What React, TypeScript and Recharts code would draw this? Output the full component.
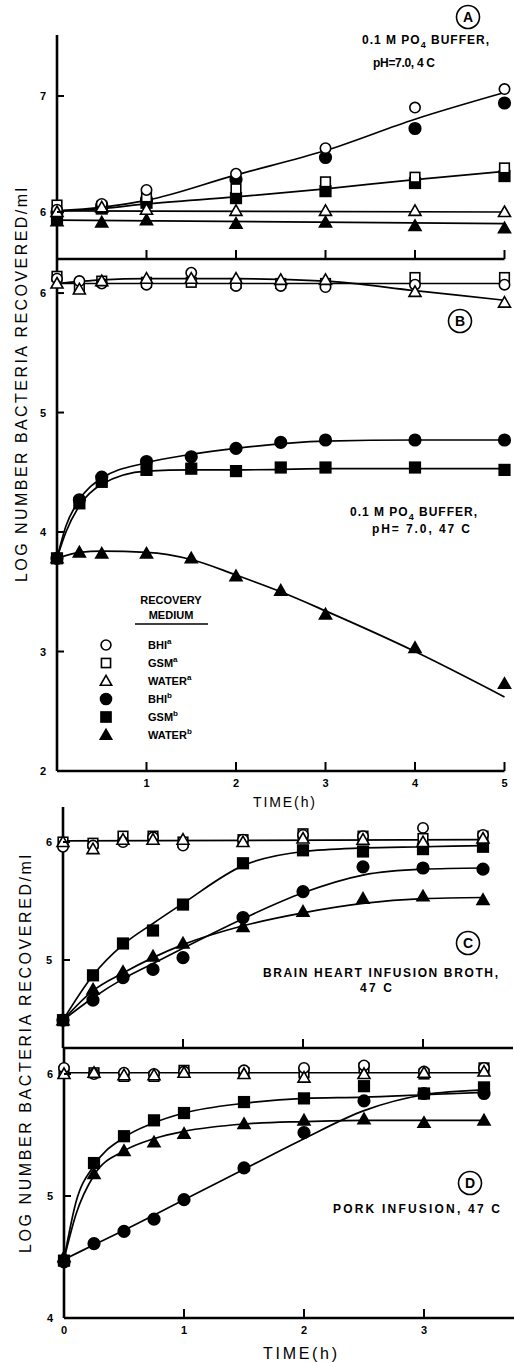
import React from "react";
import { ComposedChart, Line, Scatter, XAxis, YAxis, Legend } from "recharts";

const FONT = "'Liberation Sans', Arial, Helvetica, sans-serif";

// ---- Panel A: 0.1 M PO4 buffer, pH 7.0, 4 C ----
const A_TIME = [0, 0.5, 1, 2, 3, 4, 5];
const A_BHI_A = [6.02, 6.07, 6.19, 6.33, 6.55, 6.9, 7.06];
const A_GSM_A = [6.06, 6.05, 6.13, 6.2, 6.26, 6.3, 6.38];
const A_WATER_A = [6.0, 6.04, 6.02, 6.01, 6.01, 6.01, 6.0];
const A_BHI_B = [6.0, 6.05, 6.1, 6.28, 6.47, 6.72, 6.94];
const A_GSM_B = [5.95, 6.03, 6.08, 6.12, 6.18, 6.25, 6.31];
const A_WATER_B = [5.92, 5.91, 5.93, 5.9, 5.91, 5.88, 5.86];
// hand drawn curves
const A_FIT_TIME = [0, 0.5, 1, 2, 3, 4, 5];
const A_FIT_BHI = [6.01, 6.04, 6.1, 6.32, 6.53, 6.8, 7.03];
const A_FIT_GSM = [6.01, 6.03, 6.07, 6.13, 6.2, 6.28, 6.35];
const A_FLAT_TIME = [0, 5];
const A_FIT_WATER_A = [6.01, 6.0];
const A_FIT_WATER_B = [5.93, 5.9];

// ---- Panel B: 0.1 M PO4 buffer, pH 7.0, 47 C ----
const B_TIME = [0, 0.25, 0.5, 1, 1.5, 2, 2.5, 3, 4, 5];
const B_BHI_A = [6.12, 6.1, 6.08, 6.07, 6.17, 6.06, 6.06, 6.05, 6.07, 6.07];
const B_GSM_A = [6.14, 6.04, 6.1, 6.09, 6.09, 6.08, 6.08, 6.08, 6.13, 6.13];
const B_WATER_A = [6.08, 6.03, 6.1, 6.12, 6.12, 6.12, 6.11, 6.11, 6.01, 5.92];
const B_BHI_B = [3.78, 4.27, 4.46, 4.59, 4.63, 4.7, 4.75, 4.77, 4.77, 4.77];
const B_GSM_B = [3.78, 4.24, 4.42, 4.52, 4.53, 4.51, 4.54, 4.54, 4.54, 4.52];
const B_WATER_B = [3.78, 3.83, 3.82, 3.82, 3.78, 3.63, 3.51, 3.31, 3.03, 2.73];
const B_FLAT_TIME = [0, 5];
const B_FIT_OPEN = [6.08, 6.08];
const B_FIT_WA_TIME = [0, 0.5, 1, 2, 3, 4, 5];
const B_FIT_WATER_A = [6.08, 6.11, 6.12, 6.12, 6.1, 6.02, 5.94];
const B_FIT_TIME = [0, 0.1, 0.25, 0.5, 1, 1.5, 2, 3, 4, 5];
const B_FIT_BHI = [3.78, 4.05, 4.27, 4.45, 4.58, 4.65, 4.7, 4.76, 4.77, 4.77];
const B_FIT_GSM = [3.78, 4.0, 4.22, 4.4, 4.51, 4.52, 4.52, 4.53, 4.53, 4.53];
const B_FIT_WB_TIME = [0, 0.25, 0.5, 1, 1.5, 2, 2.5, 3, 4, 5];
const B_FIT_WATER_B = [3.78, 3.83, 3.84, 3.83, 3.77, 3.64, 3.5, 3.34, 3.0, 2.62];

// ---- Panel C: brain heart infusion broth, 47 C ----
const C_TIME = [0, 0.25, 0.5, 0.75, 1, 1.5, 2, 2.5, 3, 3.5];
const C_BHI_A = [5.96, 5.97, 6.0, 6.04, 5.97, 6.02, 6.06, 6.05, 6.12, 6.06];
const C_GSM_A = [6.0, 5.99, 6.05, 6.05, 6.0, 6.02, 6.07, 6.05, 6.03, 6.05];
const C_WATER_A = [6.0, 5.94, 6.02, 6.02, 6.02, 6.0, 6.03, 6.02, 6.0, 6.03];
const C_BHI_B = [4.49, 4.66, 4.85, 4.92, 5.02, 5.36, 5.58, 5.79, 5.78, 5.77];
const C_GSM_B = [4.49, 4.87, 5.14, 5.25, 5.47, 5.82, 5.93, 5.92, 5.94, 5.96];
const C_WATER_B = [4.49, 4.75, 4.9, 5.03, 5.14, 5.28, 5.41, 5.52, 5.54, 5.51];
const C_FLAT_TIME = [0, 3.5];
const C_FIT_OPEN = [6.01, 6.02];
const C_FIT_GSM = [4.49, 4.87, 5.13, 5.31, 5.48, 5.8, 5.92, 5.95, 5.96, 5.97];
const C_FIT_BHI = [4.49, 4.68, 4.84, 4.97, 5.1, 5.35, 5.57, 5.72, 5.77, 5.78];
const C_FIT_WATER = [4.49, 4.74, 4.89, 5.02, 5.13, 5.29, 5.4, 5.48, 5.52, 5.53];

// ---- Panel D: pork infusion, 47 C ----
const D_TIME = [0, 0.25, 0.5, 0.75, 1, 1.5, 2, 2.5, 3, 3.5];
const D_BHI_A = [6.05, 6.0, 6.01, 6.0, 6.02, 6.03, 6.05, 6.07, 6.02, 6.05];
const D_GSM_A = [6.02, 6.01, 5.98, 5.98, 6.03, 6.01, 6.01, 6.05, 6.0, 6.05];
const D_WATER_A = [6.0, 6.01, 5.99, 5.99, 6.01, 6.0, 5.97, 6.0, 6.01, 6.02];
const D_BHI_B = [4.46, 4.61, 4.71, 4.81, 4.97, 5.23, 5.52, 5.78, 5.84, 5.84];
const D_GSM_B = [4.47, 5.27, 5.49, 5.62, 5.68, 5.77, 5.8, 5.9, 5.84, 5.89];
const D_WATER_B = [4.5, 5.18, 5.37, 5.44, 5.51, 5.59, 5.62, 5.63, 5.6, 5.62];
const D_FLAT_TIME = [0, 3.5];
const D_FIT_OPEN = [6.01, 6.01];
const D_FIT_TIME = [0, 0.1, 0.25, 0.5, 0.75, 1, 1.5, 2, 2.5, 3, 3.5];
const D_FIT_GSM = [4.48, 4.95, 5.25, 5.48, 5.6, 5.68, 5.76, 5.8, 5.81, 5.83, 5.85];
const D_FIT_WATER = [4.48, 4.85, 5.17, 5.37, 5.47, 5.53, 5.59, 5.61, 5.62, 5.62, 5.62];
const D_FIT_BHI_TIME = [0, 0.25, 0.5, 1, 1.5, 2, 2.5, 3, 3.5];
const D_FIT_BHI = [4.48, 4.6, 4.72, 4.97, 5.22, 5.47, 5.7, 5.83, 5.87];

// legend rows
const LEGEND_NAMES = ["BHI", "GSM", "WATER", "BHI", "GSM", "WATER"];
const LEGEND_SUPS = ["a", "a", "a", "b", "b", "b"];

type Kind = "circle" | "square" | "triangle";
const KINDS: Kind[] = ["circle", "square", "triangle", "circle", "square", "triangle"];
const FILLED = [false, false, false, true, true, true];

const pts = (t: number[], v: number[]) => t.map((x, i) => ({ t: x, v: v[i] }));

function Mark({ cx, cy, kind, filled, s = 1 }: { cx: number; cy: number; kind: Kind; filled: boolean; s?: number }) {
  const fill = filled ? "#000" : "#fff";
  if (cx == null || cy == null) return null;
  if (kind === "circle") {
    return <circle cx={cx} cy={cy} r={(filled ? 5.8 : 5.2) * s} fill={fill} stroke="#000" strokeWidth={1.6} />;
  }
  if (kind === "square") {
    const h = (filled ? 5.3 : 4.8) * s;
    return <rect x={cx - h} y={cy - h} width={2 * h} height={2 * h} fill={fill} stroke="#000" strokeWidth={1.6} />;
  }
  const w = 6 * s;
  return (
    <polygon
      points={`${cx},${cy - w} ${cx + w},${cy + w * 0.75} ${cx - w},${cy + w * 0.75}`}
      fill={fill}
      stroke="#000"
      strokeWidth={1.6}
      strokeLinejoin="miter"
    />
  );
}

// tick line points inward (right), label on the left
function YTick(props: any) {
  const { x, y, payload, bottom } = props;
  return (
    <g>
      {payload.value !== bottom && <line x1={x} x2={x + 7} y1={y} y2={y} stroke="#000" strokeWidth={2} />}
      <text x={x - 11} y={y + 4} textAnchor="end" fontSize={11} fontWeight={700} fontFamily={FONT} fill="#000">
        {payload.value}
      </text>
    </g>
  );
}

// tick line points up into the plot
function XTick(props: any) {
  const { x, y, payload, labels, zero } = props;
  const show = labels && (payload.value !== 0 || zero);
  return (
    <g>
      {payload.value !== 0 && <line x1={x} x2={x} y1={y} y2={y - 9} stroke="#000" strokeWidth={2} />}
      {show && (
        <text x={x} y={y + 16} textAnchor="middle" fontSize={11} fontWeight={700} fontFamily={FONT} fill="#000">
          {payload.value}
        </text>
      )}
    </g>
  );
}

function LegendBox() {
  return (
    <svg width={130} height={160} style={{ overflow: "visible", fontFamily: FONT }}>
      <text x={76} y={14} textAnchor="middle" fontSize={11} fontWeight={700}>RECOVERY</text>
      <text x={76} y={29} textAnchor="middle" fontSize={11} fontWeight={700}>MEDIUM</text>
      <line x1={40} x2={113} y1={34} y2={34} stroke="#000" strokeWidth={1.4} />
      {LEGEND_NAMES.map((name, i) => (
        <g key={i}>
          <Mark cx={11} cy={55 + i * 18} kind={KINDS[i]} filled={FILLED[i]} s={0.95} />
          <text x={53} y={59 + i * 18} fontSize={11} fontWeight={700}>
            {name}
            <tspan dy={-5} fontSize={8}>{LEGEND_SUPS[i]}</tspan>
          </text>
        </g>
      ))}
    </svg>
  );
}

type Curve = { t: number[]; v: number[] };

function Panel(props: {
  top: number;
  height: number;
  margin: { top: number; right: number; bottom: number; left: number };
  xDomain: [number, number];
  xTicks: number[];
  xLabels: boolean;
  xZero?: boolean;
  yDomain: [number, number];
  yTicks: number[];
  time: number[];
  series: number[][];
  curves: Curve[];
  legend?: boolean;
}) {
  const { top, height, margin, xDomain, xTicks, xLabels, xZero, yDomain, yTicks, time, series, curves, legend } = props;
  // filled marks first, open marks on top (square, circle, triangle)
  const order = [3, 4, 5, 1, 0, 2];
  // axes need a size of at least 1px to be drawn
  const m = { ...margin, left: margin.left - 1, bottom: margin.bottom - 1 };
  return (
    <div style={{ position: "absolute", left: 0, top, width: 514, height }}>
      <ComposedChart width={514} height={height} margin={m}>
        <XAxis
          type="number"
          dataKey="t"
          domain={xDomain}
          ticks={xTicks}
          height={1}
          tickSize={0}
          tickMargin={0}
          tickLine={false}
          interval={0}
          axisLine={{ stroke: "#000", strokeWidth: 2.6 }}
          tick={<XTick labels={xLabels} zero={xZero} />}
        />
        <YAxis
          type="number"
          dataKey="v"
          domain={yDomain}
          ticks={yTicks}
          width={1}
          tickSize={0}
          tickMargin={0}
          tickLine={false}
          interval={0}
          axisLine={{ stroke: "#000", strokeWidth: 2.6 }}
          tick={<YTick bottom={yDomain[0]} />}
        />
        {curves.map((c, i) => (
          <Line
            key={`c${i}`}
            data={pts(c.t, c.v)}
            dataKey="v"
            type="monotone"
            dot={false}
            activeDot={false}
            stroke="#000"
            strokeWidth={1.7}
            isAnimationActive={false}
          />
        ))}
        {order.map((k) => (
          <Scatter
            key={`s${k}`}
            data={pts(time, series[k])}
            dataKey="v"
            isAnimationActive={false}
            shape={(p: any) => <Mark cx={p.cx} cy={p.cy} kind={KINDS[k]} filled={FILLED[k]} />}
          />
        ))}
        {legend && (
          <Legend
            layout="horizontal"
            verticalAlign="middle"
            align="center"
            content={() => <LegendBox />}
            wrapperStyle={{ position: "absolute", left: 95, top: 340, width: 130, height: 160 }}
          />
        )}
      </ComposedChart>
    </div>
  );
}

function Circled({ x, y, ch }: { x: number; y: number; ch: string }) {
  return (
    <g>
      <circle cx={x} cy={y} r={11.5} fill="#fff" stroke="#000" strokeWidth={1.6} />
      <text x={x} y={y + 5} textAnchor="middle" fontSize={14} fontWeight={700}>{ch}</text>
    </g>
  );
}

function Po4({ x, y }: { x: number; y: number }) {
  return (
    <text x={x} y={y} fontSize={12} fontWeight={700} letterSpacing={1}>
      0.1 M PO<tspan dy={4} fontSize={9}>4</tspan>
      <tspan dy={-4}>{"  BUFFER,"}</tspan>
    </text>
  );
}

function Notes() {
  return (
    <svg
      width={514}
      height={1362}
      style={{ position: "absolute", left: 0, top: 0, pointerEvents: "none", fontFamily: FONT }}
    >
      <Circled x={468} y={17} ch="A" />
      <Po4 x={362} y={44} />
      <text x={373} y={67} fontSize={12} fontWeight={700} textLength={62} lengthAdjust="spacing">pH=7.0, 4 C</text>

      <Circled x={460} y={321} ch="B" />
      <Po4 x={350} y={516} />
      <text x={372} y={533} fontSize={12} fontWeight={700} textLength={98} lengthAdjust="spacing">pH= 7.0, 47 C</text>

      <Circled x={468} y={943} ch="C" />
      <text x={263} y={977} fontSize={12} fontWeight={700} textLength={235} lengthAdjust="spacing">BRAIN HEART INFUSION BROTH,</text>
      <text x={360} y={992} fontSize={12} fontWeight={700} textLength={32} lengthAdjust="spacing">47 C</text>

      <Circled x={470} y={1183} ch="D" />
      <text x={333} y={1213} fontSize={12} fontWeight={700} textLength={167} lengthAdjust="spacing">PORK INFUSION, 47 C</text>

      <text
        x={21}
        y={385}
        transform="rotate(-90 21 385)"
        textAnchor="middle"
        dominantBaseline="central"
        fontSize={16}
        textLength={394}
        lengthAdjust="spacing"
      >
        LOG NUMBER BACTERIA RECOVERED/ml
      </text>
      <text
        x={25}
        y={1054}
        transform="rotate(-90 25 1054)"
        textAnchor="middle"
        dominantBaseline="central"
        fontSize={16}
        textLength={398}
        lengthAdjust="spacing"
      >
        LOG NUMBER BACTERIA RECOVERED/ml
      </text>
      <text x={284} y={807} textAnchor="middle" fontSize={14} textLength={62} lengthAdjust="spacing">TIME(h)</text>
      <text x={300} y={1359} textAnchor="middle" fontSize={16} textLength={74} lengthAdjust="spacing">TIME(h)</text>
    </svg>
  );
}

export default function App() {
  return (
    <div
      style={{
        position: "absolute",
        left: 0,
        top: 0,
        width: 514,
        height: 1362,
        background: "#fff",
        overflow: "hidden",
        fontFamily: FONT,
      }}
    >
      <Panel
        top={0}
        height={270}
        margin={{ top: 35, right: 9.5, bottom: 11, left: 57 }}
        xDomain={[0, 5]}
        xTicks={[0, 1, 2, 3, 4, 5]}
        xLabels={false}
        yDomain={[5.595, 7.526]}
        yTicks={[6, 7]}
        time={A_TIME}
        series={[A_BHI_A, A_GSM_A, A_WATER_A, A_BHI_B, A_GSM_B, A_WATER_B]}
        curves={[
          { t: A_FIT_TIME, v: A_FIT_BHI },
          { t: A_FIT_TIME, v: A_FIT_GSM },
          { t: A_FLAT_TIME, v: A_FIT_WATER_A },
          { t: A_FLAT_TIME, v: A_FIT_WATER_B },
        ]}
      />
      <Panel
        top={250}
        height={560}
        margin={{ top: 9, right: 9.5, bottom: 39, left: 57 }}
        xDomain={[0, 5]}
        xTicks={[0, 1, 2, 3, 4, 5]}
        xLabels={true}
        yDomain={[2, 6.285]}
        yTicks={[2, 3, 4, 5, 6]}
        time={B_TIME}
        series={[B_BHI_A, B_GSM_A, B_WATER_A, B_BHI_B, B_GSM_B, B_WATER_B]}
        curves={[
          { t: B_FLAT_TIME, v: B_FIT_OPEN },
          { t: B_FIT_WA_TIME, v: B_FIT_WATER_A },
          { t: B_FIT_TIME, v: B_FIT_BHI },
          { t: B_FIT_TIME, v: B_FIT_GSM },
          { t: B_FIT_WB_TIME, v: B_FIT_WATER_B },
        ]}
        legend
      />
      <Panel
        top={790}
        height={270}
        margin={{ top: 17, right: 1, bottom: 12, left: 63 }}
        xDomain={[0, 3.75]}
        xTicks={[0, 1, 2, 3]}
        xLabels={false}
        yDomain={[4.254, 6.297]}
        yTicks={[5, 6]}
        time={C_TIME}
        series={[C_BHI_A, C_GSM_A, C_WATER_A, C_BHI_B, C_GSM_B, C_WATER_B]}
        curves={[
          { t: C_FLAT_TIME, v: C_FIT_OPEN },
          { t: C_TIME, v: C_FIT_GSM },
          { t: C_TIME, v: C_FIT_BHI },
          { t: C_TIME, v: C_FIT_WATER },
        ]}
      />
      <Panel
        top={1040}
        height={322}
        margin={{ top: 8, right: 0, bottom: 44, left: 64 }}
        xDomain={[0, 3.75]}
        xTicks={[0, 1, 2, 3]}
        xLabels={true}
        xZero
        yDomain={[4, 6.213]}
        yTicks={[4, 5, 6]}
        time={D_TIME}
        series={[D_BHI_A, D_GSM_A, D_WATER_A, D_BHI_B, D_GSM_B, D_WATER_B]}
        curves={[
          { t: D_FLAT_TIME, v: D_FIT_OPEN },
          { t: D_FIT_TIME, v: D_FIT_GSM },
          { t: D_FIT_TIME, v: D_FIT_WATER },
          { t: D_FIT_BHI_TIME, v: D_FIT_BHI },
        ]}
      />
      <Notes />
    </div>
  );
}
